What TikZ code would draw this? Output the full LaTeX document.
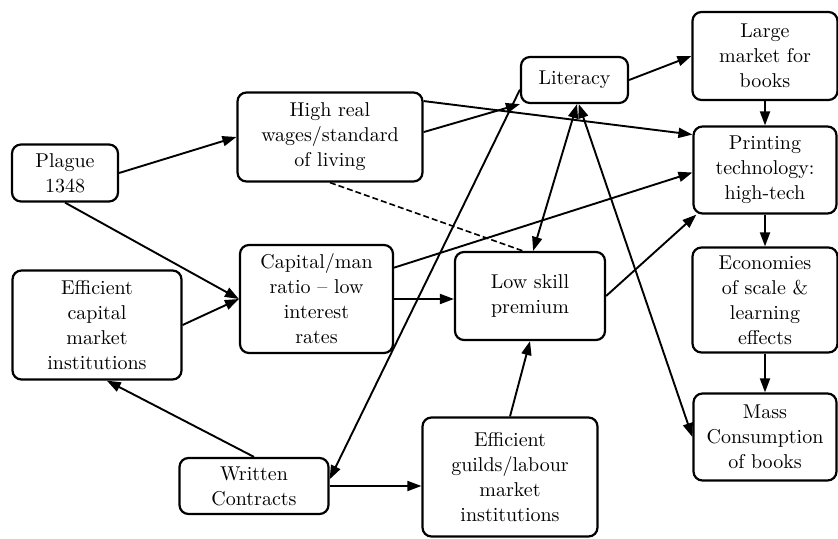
\documentclass[tikz,border=0pt]{standalone}
\usetikzlibrary{arrows.meta}

\begin{document}
\begin{tikzpicture}[x=0.5pt, y=-0.5pt,
  >={Triangle[length=7pt, width=5pt]},
  factor/.style={draw, line width=1.1pt, rounded corners=4.5pt, align=center,
    inner sep=2pt, font=\fontsize{10}{12.5}\selectfont},
  arr/.style={->, line width=0.95pt},
  biarr/.style={<->, line width=0.95pt},
  link/.style={line width=0.8pt, dash pattern=on 3pt off 1.5pt},
]

\useasboundingbox (0,0) rectangle (838,539);

% === Left: causes ===
\node[factor, minimum width=53pt, minimum height=28.5pt] (plague) at (65,173)
  {Plague\\1348};
\node[factor, minimum width=84.5pt, minimum height=54.5pt] (effcap) at (97,325)
  {Efficient\\capital\\market\\institutions};
\node[factor, minimum width=74.5pt, minimum height=28pt] (contracts) at (254,486)
  {Written\\Contracts};

% === Middle ===
\node[factor, minimum width=92.5pt, minimum height=44.5pt] (wages) at (330,137)
  {High real\\wages/standard\\of living};
\node[factor, minimum width=76.5pt, minimum height=54pt] (capital) at (316.5,299)
  {Capital/man\\ratio -- low\\interest\\rates};
\node[factor, minimum width=53.5pt, minimum height=23pt] (literacy) at (574.5,80)
  {Literacy};
\node[factor, minimum width=75pt, minimum height=44pt] (lowskill) at (530,296)
  {Low skill\\premium};
\node[factor, minimum width=87.5pt, minimum height=59.5pt] (guilds) at (510,477)
  {Efficient\\guilds/labour\\market\\institutions};

% === Right column: printing ===
\node[factor, minimum width=72.5pt, minimum height=44pt] (market) at (765,56)
  {Large\\market for\\books};
\node[factor, minimum width=71.5pt, minimum height=43.5pt] (printing) at (765,170)
  {Printing\\technology:\\high-tech};
\node[factor, minimum width=72.5pt, minimum height=52.5pt] (economies) at (765,300)
  {Economies\\of scale \&\\learning\\effects};
\node[factor, minimum width=71.5pt, minimum height=43.5pt] (mass) at (765,437)
  {Mass\\Consumption\\of books};

% === Links ===
\draw[arr] (plague.east) -- (wages.west);
\draw[arr] (plague.south) -- (capital.west);
\draw[arr] (effcap.east) -- (capital.west);
\draw[arr] (contracts.north) -- (effcap.-80);
\draw[arr] (contracts.east) -- (contracts.east -| guilds.west);
\draw[arr] (literacy.190) -- (contracts.5);

\draw[arr] (wages.3) -- (literacy.south west);
\draw[arr] (wages.21) -- (printing.154);
\draw[link] (wages.south) -- (lowskill.99);

\draw[arr] (capital.22) -- (printing.182);
\draw[arr] (capital.east) -- (capital.east -| lowskill.west);
\draw[arr] (lowskill.east) -- (printing.213);
\draw[arr] (guilds.north) -- (lowskill.south);

\draw[biarr] (lowskill.86) -- (literacy.-84);
\draw[biarr] (literacy.-80) -- (mass.west);
\draw[arr] (literacy.east) -- (market.west);

% straight drops down the right column
\draw[arr] (market.south) -- (printing.north);
\draw[arr] (printing.south) -- (economies.north);
\draw[arr] (economies.south) -- (mass.north);

\end{tikzpicture}
\end{document}
